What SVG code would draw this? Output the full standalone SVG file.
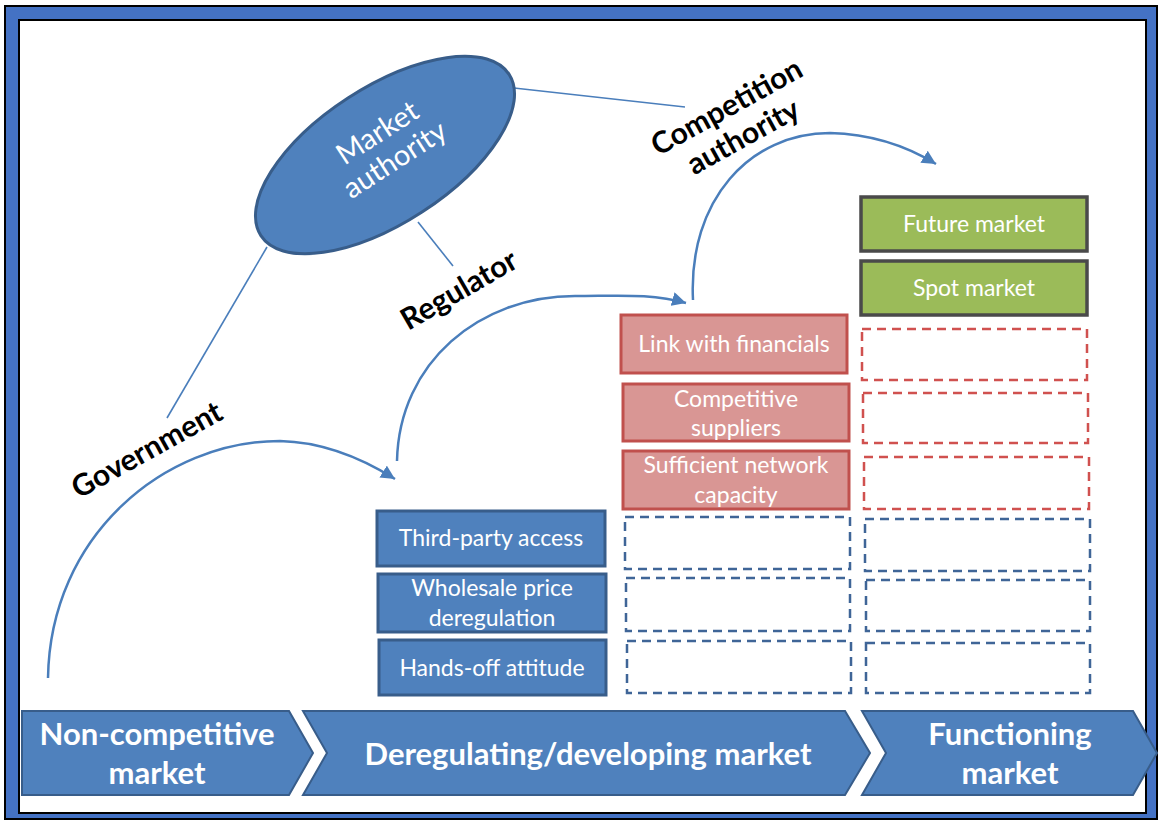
<svg xmlns="http://www.w3.org/2000/svg" width="1162" height="823" viewBox="0 0 1162 823">
<style>
.blue{fill:#4F81BD;stroke:#385D8A;stroke-width:3}
.red{fill:#D99694;stroke:#C0504D;stroke-width:3}
.green{fill:#9BBB59;stroke:#4A4A4A;stroke-width:3.5}
.dblue{fill:none;stroke:#3F6597;stroke-width:2.5;stroke-dasharray:9 6}
.dred{fill:none;stroke:#D0514F;stroke-width:2.5;stroke-dasharray:9 6}
.chev{fill:#4F81BD;stroke:#385D8A;stroke-width:2}
.wt{font-family:Lato,"Liberation Sans",sans-serif;fill:#fff;text-anchor:middle;font-size:23px}
.big{font-size:29px}
.bt{font-family:Lato,"Liberation Sans",sans-serif;font-weight:bold;fill:#000;text-anchor:middle;font-size:30px}
.ct{font-family:Lato,"Liberation Sans",sans-serif;font-weight:bold;fill:#fff;text-anchor:middle;font-size:31px}
.ln{fill:none;stroke:#4A7EBB;stroke-width:1.6}
.arc{fill:none;stroke:#4A7EBB;stroke-width:2.5}
</style>
<defs>
<marker id="arr" markerUnits="userSpaceOnUse" markerWidth="16" markerHeight="14" refX="14" refY="7" orient="auto"><path d="M0,0 L14,7 L0,14 z" fill="#4A7EBB"/></marker>
</defs>
<rect x="5" y="6" width="1152" height="813" fill="#4472C4" stroke="#000" stroke-width="2"/>
<rect x="19" y="20" width="1127" height="793" fill="#fff" stroke="#000" stroke-width="2"/>

<g id="connectors">
<line class="ln" x1="267" y1="247" x2="167" y2="418"/>
<line class="ln" x1="418" y1="222" x2="453" y2="266"/>
<line class="ln" x1="514" y1="88" x2="685" y2="107"/>
<path class="arc" d="M48,678 C50,535 165,441 280,441 C322,442 360,457 395,479" marker-end="url(#arr)"/>
<path class="arc" d="M397,461 C399,362 480,296 575,296 C617,296 652,293 686,303" marker-end="url(#arr)"/>
<path class="arc" d="M693,300 C688,200 750,133 830,133 C870,134 905,145 936,164" marker-end="url(#arr)"/>
</g>

<g id="market-authority">
<ellipse cx="385" cy="155" rx="148" ry="68" transform="rotate(-33 385 155)" fill="#4F81BD" stroke="#385D8A" stroke-width="3"/>
<g transform="translate(386,146) rotate(-33)">
<text class="wt big" x="0" y="-6">Market</text>
<text class="wt big" x="0" y="26">authority</text>
</g>
</g>

<g id="label-government"><text class="bt" transform="translate(147,450) rotate(-29)" y="10">Government</text></g>
<g id="label-regulator"><text class="bt" transform="translate(459,290) rotate(-30)" y="10">Regulator</text></g>
<g id="label-competition"><g transform="translate(735,122) rotate(-29)">
<text class="bt" y="-7">Competition</text>
<text class="bt" y="27">authority</text></g></g>

<g id="third-party"><rect class="blue" x="377" y="511" width="228" height="55"/><text class="wt" x="491" y="546">Third-party access</text></g>
<g id="wholesale"><rect class="blue" x="378" y="574" width="228" height="58"/><text class="wt" x="492" y="596">Wholesale price</text><text class="wt" x="492" y="626">deregulation</text></g>
<g id="hands-off"><rect class="blue" x="379" y="640" width="227" height="55"/><text class="wt" x="492" y="676">Hands-off attitude</text></g>

<g id="link-financials"><rect class="red" x="621" y="315" width="226" height="58"/><text class="wt" x="734" y="352">Link with financials</text></g>
<g id="competitive-suppliers"><rect class="red" x="623" y="384" width="226" height="57"/><text class="wt" x="736" y="407">Competitive</text><text class="wt" x="736" y="436">suppliers</text></g>
<g id="sufficient-network"><rect class="red" x="623" y="451" width="226" height="58"/><text class="wt" x="736" y="473">Sufficient network</text><text class="wt" x="736" y="503">capacity</text></g>

<g id="future-market"><rect class="green" x="861" y="197" width="226" height="54"/><text class="wt" x="974" y="232">Future market</text></g>
<g id="spot-market"><rect class="green" x="861" y="261" width="226" height="54"/><text class="wt" x="974" y="296">Spot market</text></g>

<g id="placeholders">
<rect class="dred" x="862" y="329" width="225" height="51"/>
<rect class="dred" x="863" y="393" width="225" height="50"/>
<rect class="dred" x="864" y="457" width="225" height="52"/>
<rect class="dblue" x="625" y="517" width="225" height="52"/>
<rect class="dblue" x="626" y="578" width="224" height="53"/>
<rect class="dblue" x="627" y="641" width="224" height="52"/>
<rect class="dblue" x="865" y="519" width="225" height="52"/>
<rect class="dblue" x="866" y="580" width="224" height="51"/>
<rect class="dblue" x="866" y="643" width="224" height="50"/>
</g>

<g id="stage-noncompetitive"><polygon class="chev" points="22,711 289,711 313,753 289,795 22,795"/><text class="ct" x="157" y="745">Non-competitive</text><text class="ct" x="157" y="784">market</text></g>
<g id="stage-deregulating"><polygon class="chev" points="303,711 845,711 870,753 845,795 303,795 327,753"/><text class="ct" x="588" y="765">Deregulating/developing market</text></g>
<g id="stage-functioning"><polygon class="chev" points="862,711 1133,711 1157,753 1133,795 862,795 886,753"/><text class="ct" x="1010" y="745">Functioning</text><text class="ct" x="1010" y="784">market</text></g>
</svg>
